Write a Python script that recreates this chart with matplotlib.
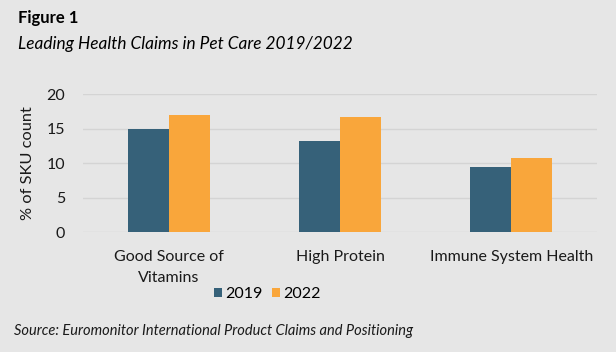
import matplotlib.pyplot as plt
import numpy as np

# Leading health claims in pet care, % of SKU count
categories = ["Good Source of\nVitamins", "High Protein", "Immune System Health"]
share_2019 = [15.0, 13.2, 9.4]
share_2022 = [17.0, 16.7, 10.7]
series_labels = ["2019", "2022"]
y_ticks = [0, 5, 10, 15, 20]

BG = "#e6e6e6"
TEAL = "#366179"
ORANGE = "#f9a63b"
GRID = "#d4d4d4"

plt.rcParams["font.family"] = ["Lato", "DejaVu Sans"]

W, H = 616, 352
fig = plt.figure(figsize=(W / 100, H / 100), dpi=100, facecolor=BG)
ax = fig.add_axes([83 / W, 1 - 232 / H, (597 - 83) / W, (232 - 94.3) / H])
ax.set_facecolor(BG)

x = np.arange(len(categories))
width = 0.24
ax.bar(x - width / 2, share_2019, width, color=TEAL, label=series_labels[0], zorder=3)
ax.bar(x + width / 2, share_2022, width, color=ORANGE, label=series_labels[1], zorder=3)

ax.set_xlim(-0.5, len(categories) - 0.5)
ax.set_ylim(0, 20)
ax.set_yticks(y_ticks)
ax.yaxis.grid(True, color=GRID, linewidth=1, zorder=0)
ax.set_xticks(x)
ax.set_xticklabels(categories, fontsize=11.6, color="#1a1a1a", linespacing=1.65)
ax.tick_params(axis="both", length=0, labelsize=11.5, colors="#1a1a1a")
ax.tick_params(axis="x", pad=13)
ax.tick_params(axis="y", pad=13)
for s in ax.spines.values():
    s.set_visible(False)
ax.set_ylabel("% of SKU count", fontsize=11.8, color="#1a1a1a", labelpad=8)

ax.legend(loc="center", bbox_to_anchor=(267 / W, 1 - 294 / H),
          bbox_transform=fig.transFigure, ncol=2, frameon=False, fontsize=11.5,
          handlelength=0.5, handleheight=0.5, handletextpad=0.2, columnspacing=0.6)

fig.text(18 / W, 1 - 18 / H, "Figure 1", fontsize=12, fontweight="bold",
         va="center", ha="left", color="#000000")
fig.text(18 / W, 1 - 44 / H, "Leading Health Claims in Pet Care 2019/2022",
         fontsize=12.4, fontstyle="italic", va="center", ha="left", color="#000000")
fig.text(14 / W, 1 - 331 / H,
         "Source: Euromonitor International Product Claims and Positioning",
         fontsize=10.5, fontstyle="italic", va="center", ha="left", color="#1a1a1a")

fig.savefig("out.png", dpi=100, facecolor=BG)
